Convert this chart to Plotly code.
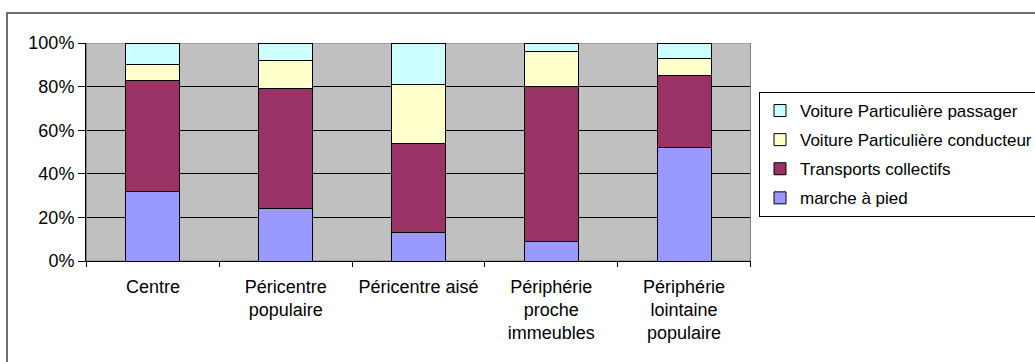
import plotly.graph_objects as go

# Zones of residence (x categories)
zones = [
    "Centre",
    "Péricentre<br>populaire",
    "Péricentre aisé",
    "Périphérie<br>proche<br>immeubles",
    "Périphérie<br>lointaine<br>populaire",
]

# Modal share per zone, in percent
marche_a_pied = [32, 24, 13, 9, 52]
transports_collectifs = [51, 55, 41, 71, 33]
vp_conducteur = [7, 13, 27, 16, 8]
vp_passager = [10, 8, 19, 4, 7]

series = [
    ("marche à pied", marche_a_pied, "#9999FF"),
    ("Transports collectifs", transports_collectifs, "#993366"),
    ("Voiture Particulière conducteur", vp_conducteur, "#FFFFCC"),
    ("Voiture Particulière passager", vp_passager, "#CCFFFF"),
]

y_ticks = [0, 20, 40, 60, 80, 100]

W, H = 1035, 362
ML, MR, MT, MB = 86, 284, 43, 101
PW, PH = W - ML - MR, H - MT - MB


def px_x(px):
    return (px - ML) / PW


def px_y(py):
    return (H - MB - py) / PH


FONT = "Liberation Sans, Arial, sans-serif"

fig = go.Figure()
n = len(series)
for i, (name, vals, color) in enumerate(series):
    fig.add_trace(go.Bar(
        x=zones, y=vals, name=name, legendgroup=name,
        legendrank=n - i,
        marker=dict(color=color, line=dict(color="black", width=1)),
    ))

fig.update_layout(
    width=W, height=H,
    margin=dict(l=ML, r=MR, t=MT, b=MB, pad=0, autoexpand=False),
    barmode="stack",
    bargap=0.594,
    paper_bgcolor="white",
    plot_bgcolor="#C0C0C0",
    font=dict(family=FONT, size=18, color="black"),
    showlegend=True,
    legend=dict(
        x=px_x(759), y=px_y(92), xanchor="left", yanchor="top",
        bgcolor="white", bordercolor="black", borderwidth=1,
        traceorder="grouped", tracegroupgap=4,
        itemwidth=30,
        font=dict(family=FONT, size=17, color="black"),
    ),
    xaxis=dict(
        showgrid=False, showline=True, linecolor="black", linewidth=1,
        ticks="outside", tickson="boundaries", ticklen=5,
        tickcolor="black", tickwidth=1, tickangle=0,
        ticklabelstandoff=9,
    ),
    yaxis=dict(
        range=[0, 100], tickvals=y_ticks,
        ticktext=[f"{v}%" for v in y_ticks],
        showgrid=True, gridcolor="black", gridwidth=1,
        zeroline=False,
        showline=True, linecolor="black", linewidth=1,
        ticks="outside", ticklen=7, tickcolor="black", tickwidth=1,
    ),
    shapes=[
        # grey border of the plotting area (under the bars, over the gridlines)
        dict(type="rect", xref="x", yref="y",
             x0=-0.5, x1=len(zones) - 0.5, y0=0, y1=100, layer="between",
             line=dict(color="#808080", width=1),
             fillcolor="rgba(0,0,0,0)"),
        # outer chart frame
        dict(type="rect", xref="paper", yref="paper",
             x0=px_x(7), x1=px_x(W + 20), y0=px_y(13), y1=px_y(H + 20),
             line=dict(color="#404040", width=1.5),
             fillcolor="rgba(0,0,0,0)"),
    ],
)

fig.write_html("out.html")
